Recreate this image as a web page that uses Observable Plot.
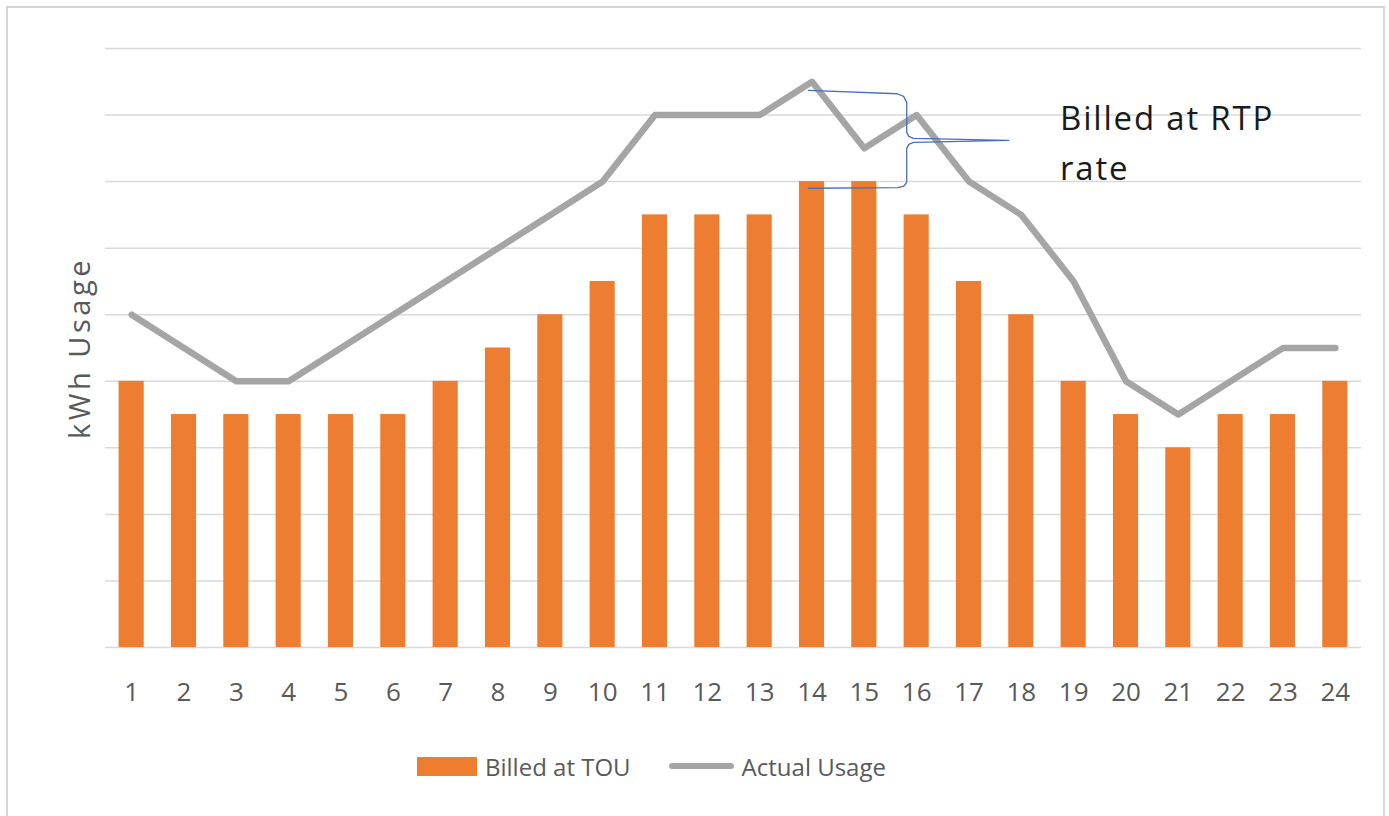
<!DOCTYPE html>
<html>
<head>
<meta charset="utf-8">
<script src="https://cdn.jsdelivr.net/npm/d3@7"></script>
<script src="https://cdn.jsdelivr.net/npm/@observablehq/plot@0.6"></script>
<style>
  html, body { margin: 0; padding: 0; background: #fff; }
  #wrap { position: relative; width: 1389px; height: 816px; overflow: hidden; background: #fff; font-family: "Open Sans", sans-serif; }
  #frame { position: absolute; left: 6px; top: 6px; width: 1379px; height: 840px; border: 2px solid #d6d6d6; box-sizing: border-box; }
  #chart { position: absolute; left: 0; top: 0; }
  #legend { position: absolute; left: 417px; top: 751px; height: 30px; display: flex; align-items: center; color: #595959; font-size: 24px; }
  .sw-bar { width: 60px; height: 19px; background: #ed7d31; margin-right: 8px; }
  .sw-line { width: 65px; height: 6px; border-radius: 3px; background: #a5a5a5; margin-right: 8px; margin-left: 38px; }
</style>
</head>
<body>
<div id="wrap">
  <div id="frame"></div>
  <div id="chart"></div>
  <div id="legend"></div>
</div>
<script>
// ---- data ----
const hours = [1,2,3,4,5,6,7,8,9,10,11,12,13,14,15,16,17,18,19,20,21,22,23,24];
const billedTOU = [4,3.5,3.5,3.5,3.5,3.5,4,4.5,5,5.5,6.5,6.5,6.5,7,7,6.5,5.5,5,4,3.5,3,3.5,3.5,4];
const actualUsage = [5,4.5,4,4,4.5,5,5.5,6,6.5,7,8,8,8,8.5,7.5,8,7,6.5,5.5,4,3.5,4,4.5,4.5];
const gridValues = [0,1,2,3,4,5,6,7,8,9];
const seriesNames = ["Billed at TOU", "Actual Usage"];
const yLabel = "kWh Usage";
// annotation: curly brace (in hour / kWh units) and its label
const braceHour = [13.93,15.63,15.75,15.81,15.81,15.85,15.94,17.76,15.94,15.85,15.81,15.81,15.75,15.63,13.93];
const braceKwh  = [8.37,8.32,8.28,8.19,7.74,7.68,7.65,7.62,7.59,7.56,7.50,6.99,6.93,6.91,6.90];
const noteLines = ["Billed at RTP", "rate"];
const noteHour = [18.74, 18.74];
const noteKwh = [7.77, 7.02];

const rows = hours.map((h, i) => ({hour: h, tou: billedTOU[i], actual: actualUsage[i]}));
const brace = braceHour.map((h, i) => ({hour: h, kwh: braceKwh[i]}));
const notes = noteLines.map((t, i) => ({text: t, hour: noteHour[i], kwh: noteKwh[i]}));
const barHalf = 0.24;

const chart = Plot.plot({
  width: 1389,
  height: 740,
  marginLeft: 105,
  marginRight: 28,
  marginTop: 48,
  marginBottom: 93,
  x: {domain: [0.5, 24.5], axis: null},
  y: {domain: [0, 9], axis: null},
  style: {fontFamily: "Open Sans", background: "transparent", overflow: "visible"},
  marks: [
    Plot.ruleY(gridValues, {stroke: "#d9d9d9", strokeWidth: 1.5}),
    Plot.rectY(rows, {x1: d => d.hour - barHalf, x2: d => d.hour + barHalf, y: "tou", fill: "#ed7d31"}),
    Plot.line(rows, {x: "hour", y: "actual", stroke: "#a5a5a5", strokeWidth: 6.5, strokeLinejoin: "round", strokeLinecap: "round"}),
    Plot.line(brace, {x: "hour", y: "kwh", stroke: "#4a6fb5", strokeWidth: 1.3}),
    Plot.axisX({ticks: hours, tickSize: 0, tickPadding: 35, fontSize: 26, color: "#595959", label: null, tickFormat: d => String(d)}),
    Plot.text(notes, {x: "hour", y: "kwh", text: "text", textAnchor: "start", lineAnchor: "bottom", fontSize: 33, fill: "#1a1a1a"}),
    Plot.text([yLabel], {frameAnchor: "left", textAnchor: "middle", rotate: -90, dx: -25, fontSize: 29, fill: "#595959"})
  ]
});
document.getElementById("chart").appendChild(chart);

// widen letter spacing of the annotation and y label to match the reference
const textGroups = d3.select(chart).selectAll('g[aria-label="text"]').nodes();
if (textGroups[0]) d3.select(textGroups[0]).selectAll("text").style("letter-spacing", "1.8px");
if (textGroups[1]) d3.select(textGroups[1]).selectAll("text").style("letter-spacing", "3.5px");

// legend
const legend = document.getElementById("legend");
legend.innerHTML =
  `<div class="sw-bar"></div><span>${seriesNames[0]}</span>` +
  `<div class="sw-line"></div><span>${seriesNames[1]}</span>`;
</script>
</body>
</html>
